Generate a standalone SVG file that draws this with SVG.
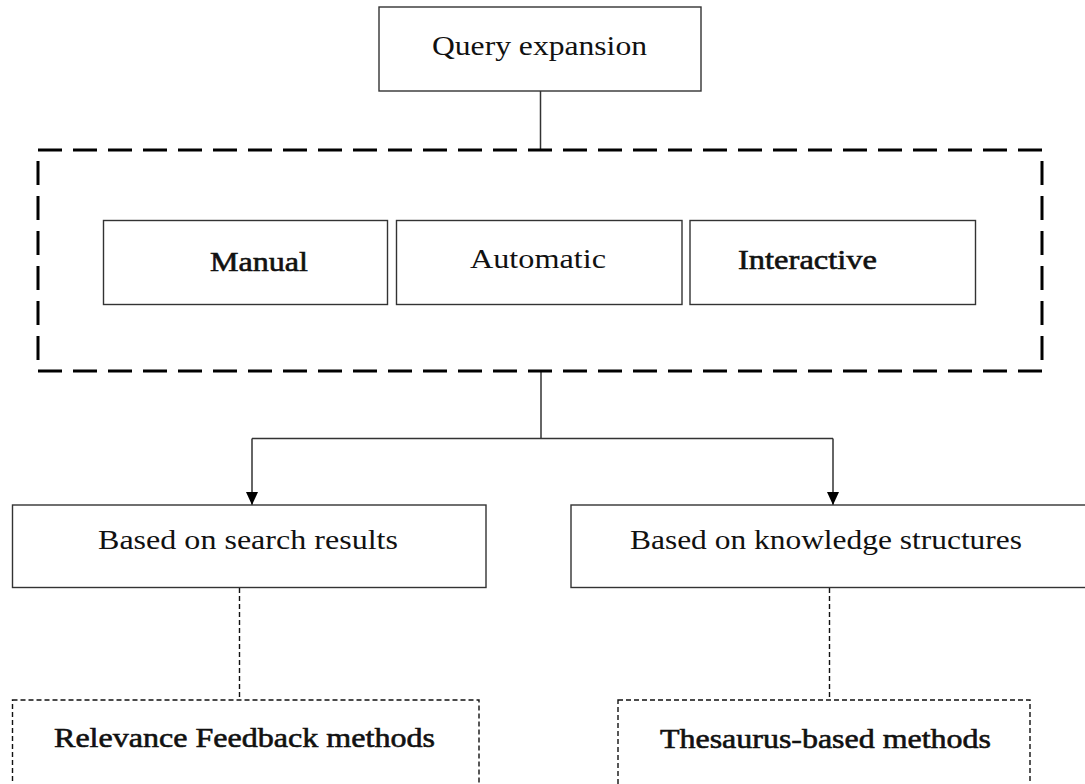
<svg xmlns="http://www.w3.org/2000/svg" width="1085" height="784" viewBox="0 0 1085 784">
<style>
.box{fill:#fff;stroke:#333;stroke-width:1.4}
.dot{fill:#fff;stroke:#111;stroke-width:1.4;stroke-dasharray:5 3}
.group{fill:none;stroke:#000;stroke-width:3;stroke-dasharray:24 11}
.lbl{font-family:"Liberation Serif","Times New Roman",serif;font-size:28px;fill:#111}
.b{stroke:#111;stroke-width:0.6}
.conn{fill:none;stroke:#333;stroke-width:1.5}
.dconn{fill:none;stroke:#111;stroke-width:1.4;stroke-dasharray:5 3}
</style>
<defs>
<marker id="arrowD" viewBox="0 0 12 13" refX="6" refY="13" markerWidth="12" markerHeight="13" markerUnits="userSpaceOnUse" orient="0">
<path d="M0,0 L12,0 L6,13 Z" fill="#000"/>
</marker>
</defs>
<rect width="1085" height="784" fill="#fff"/>
<g id="connectors">
<line class="conn" x1="540.5" y1="91" x2="540.5" y2="150"/>
<line class="conn" x1="541" y1="371" x2="541" y2="438.5"/>
<line class="conn" x1="252" y1="438.5" x2="833" y2="438.5"/>
<line class="conn" x1="252" y1="438.5" x2="252" y2="505" marker-end="url(#arrowD)"/>
<line class="conn" x1="833" y1="438.5" x2="833" y2="505" marker-end="url(#arrowD)"/>
<line class="dconn" x1="239.5" y1="588" x2="239.5" y2="700"/>
<line class="dconn" x1="829.5" y1="588" x2="829.5" y2="700"/>
</g>
<g id="query-expansion">
<rect class="box" x="379" y="7" width="322" height="84"/>
<text class="lbl" x="432" y="55" textLength="215" lengthAdjust="spacingAndGlyphs">Query expansion</text>
</g>
<g id="expansion-types">
<rect class="group" x="38" y="150" width="1004" height="221"/>
</g>
<g id="manual">
<rect class="box" x="103.5" y="220.5" width="284" height="84"/>
<text class="lbl b" x="210" y="271" textLength="98" lengthAdjust="spacingAndGlyphs">Manual</text>
</g>
<g id="automatic">
<rect class="box" x="396.5" y="220.5" width="285.5" height="84"/>
<text class="lbl" x="470" y="268" textLength="136" lengthAdjust="spacingAndGlyphs">Automatic</text>
</g>
<g id="interactive">
<rect class="box" x="690" y="220.5" width="285.5" height="84"/>
<text class="lbl b" x="738" y="269" textLength="139" lengthAdjust="spacingAndGlyphs">Interactive</text>
</g>
<g id="search-results">
<rect class="box" x="12.5" y="505" width="473.5" height="82.5"/>
<text class="lbl" x="98" y="549" textLength="300" lengthAdjust="spacingAndGlyphs">Based on search results</text>
</g>
<g id="knowledge-structures">
<rect class="box" x="571" y="505" width="530" height="82.5"/>
<text class="lbl" x="630" y="549" textLength="392" lengthAdjust="spacingAndGlyphs">Based on knowledge structures</text>
</g>
<g id="relevance-feedback">
<rect class="dot" x="12.5" y="700" width="466.5" height="110"/>
<text class="lbl b" x="54" y="747" textLength="381" lengthAdjust="spacingAndGlyphs">Relevance Feedback methods</text>
</g>
<g id="thesaurus">
<rect class="dot" x="618" y="700" width="412" height="110"/>
<text class="lbl b" x="660" y="748" textLength="331" lengthAdjust="spacingAndGlyphs">Thesaurus-based methods</text>
</g>
</svg>
